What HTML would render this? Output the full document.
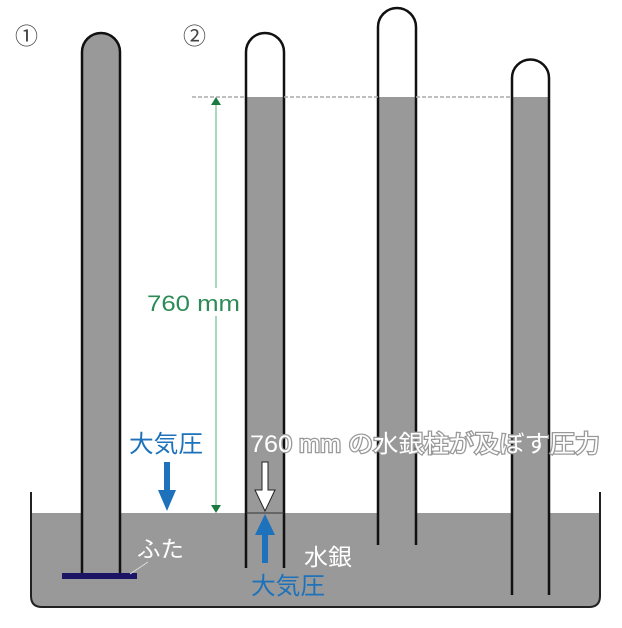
<!DOCTYPE html>
<html><head><meta charset="utf-8"><style>
html,body{margin:0;padding:0;background:#fff;}
svg{display:block;}
text{font-family:"Liberation Sans","Noto Sans CJK JP",sans-serif;}
</style></head><body>
<svg width="622" height="628" viewBox="0 0 622 628" xmlns="http://www.w3.org/2000/svg">
<path d="M31,513 L600,513 L600,596 Q600,607 589,607 L42,607 Q31,607 31,596 Z" fill="#999"/>
<path d="M31,492 L31,596 Q31,607 42,607 L589,607 Q600,607 600,596 L600,492" fill="none" stroke="#222" stroke-width="2"/>
<path d="M82,575 L82,52 A19,19 0 0 1 120,52 L120,575 Z" fill="#999"/>
<path d="M82,575 L82,52 A19,19 0 0 1 120,52 L120,575" fill="none" stroke="#111" stroke-width="2.5"/>
<rect x="62" y="573" width="75" height="6" fill="#1c1464"/>
<path d="M246,52 A19,19 0 0 1 284,52 L284,568 L246,568 Z" fill="#fff"/>
<rect x="246" y="97" width="38" height="471" fill="#999"/>
<path d="M246,568 L246,52 A19,19 0 0 1 284,52 L284,568" fill="none" stroke="#111" stroke-width="2.5"/>
<path d="M378,27 A19,19 0 0 1 416,27 L416,545 L378,545 Z" fill="#fff"/>
<rect x="378" y="97" width="38" height="448" fill="#999"/>
<path d="M378,545 L378,27 A19,19 0 0 1 416,27 L416,545" fill="none" stroke="#111" stroke-width="2.5"/>
<path d="M512,78 A18.5,18.5 0 0 1 549,78 L549,595 L512,595 Z" fill="#fff"/>
<rect x="512" y="97" width="37" height="498" fill="#999"/>
<path d="M512,595 L512,78 A18.5,18.5 0 0 1 549,78 L549,595" fill="none" stroke="#111" stroke-width="2.5"/>
<line x1="192" y1="97" x2="246" y2="97" stroke="#aaa" stroke-width="1.5" stroke-dasharray="4,2"/>
<line x1="284" y1="97" x2="378" y2="97" stroke="#aaa" stroke-width="1.5" stroke-dasharray="4,2"/>
<line x1="416" y1="97" x2="512" y2="97" stroke="#aaa" stroke-width="1.5" stroke-dasharray="4,2"/>
<line x1="216" y1="104" x2="216" y2="506" stroke="#6fbf8f" stroke-width="1.2"/>
<path d="M211,105 L216,97 L221,105 Z" fill="#1a7a40"/>
<path d="M211,505 L216,513 L221,505 Z" fill="#1a7a40"/>
<rect x="146" y="288" width="96" height="28" fill="#fff"/>
<text x="147" y="311" font-size="22" fill="#2e8b57" textLength="93" lengthAdjust="spacingAndGlyphs">760 mm</text>
<text x="15" y="44" font-size="23" fill="#444">①</text>
<text x="183" y="44" font-size="23" fill="#444">②</text>
<text x="129" y="452" font-size="24" fill="#1d72bb" textLength="74" lengthAdjust="spacingAndGlyphs">大気圧</text>
<path d="M164,462 L170,462 L170,490 L176,490 L167,511 L158,490 L164,490 Z" fill="#1d72bb"/>
<text x="250" y="452" font-size="24" fill="#fff" stroke="#999" stroke-width="2.5" paint-order="stroke" textLength="350" lengthAdjust="spacingAndGlyphs">760 mm の水銀柱が及ぼす圧力</text>
<path d="M262,462 L268,462 L268,490 L275,490 L265,511 L255,490 L262,490 Z" fill="#fff" stroke="#222" stroke-width="1"/>
<line x1="246" y1="513" x2="284" y2="513" stroke="#333" stroke-width="1"/>
<path d="M262,563 L268,563 L268,535 L275,535 L265,514 L255,535 L262,535 Z" fill="#1d72bb"/>
<text x="304" y="565" font-size="23" fill="#fff" textLength="48" lengthAdjust="spacingAndGlyphs">水銀</text>
<text x="251" y="594" font-size="24" fill="#1d72bb" textLength="74" lengthAdjust="spacingAndGlyphs">大気圧</text>
<text x="137" y="557" font-size="23" fill="#fff" textLength="47" lengthAdjust="spacingAndGlyphs">ふた</text>
<line x1="148" y1="562" x2="130" y2="574" stroke="#ddd" stroke-width="1"/>
</svg>
</body></html>
